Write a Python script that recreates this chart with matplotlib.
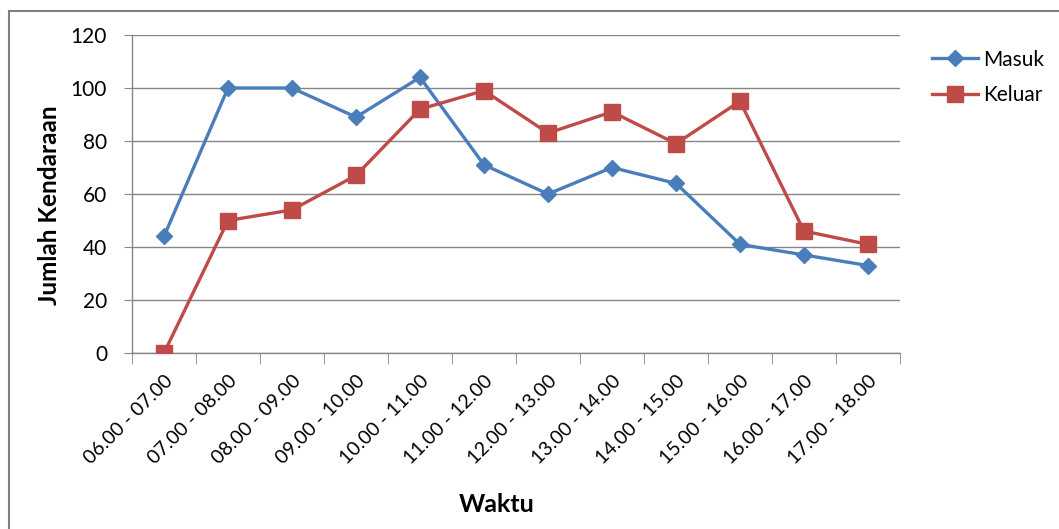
import numpy as np
import matplotlib.pyplot as plt
from matplotlib.patches import Rectangle

# Data
waktu = ["06.00 - 07.00", "07.00 - 08.00", "08.00 - 09.00", "09.00 - 10.00",
         "10.00 - 11.00", "11.00 - 12.00", "12.00 - 13.00", "13.00 - 14.00",
         "14.00 - 15.00", "15.00 - 16.00", "16.00 - 17.00", "17.00 - 18.00"]
masuk = [44, 100, 100, 89, 104, 71, 60, 70, 64, 41, 37, 33]
keluar = [0, 50, 54, 67, 92, 99, 83, 91, 79, 95, 46, 41]
y_ticks = [0, 20, 40, 60, 80, 100, 120]

BLUE = "#4A7EBB"
RED = "#BE4B48"
GRID = "#868686"

plt.rcParams["font.family"] = ["Lato", "DejaVu Sans"]

W, H = 1059, 529
fig = plt.figure(figsize=(W / 100, H / 100), dpi=100)

# chart frame (left and top edges visible)
fig.add_artist(Rectangle((9 / W, -0.1), 1.2, 1 - 11 / H + 0.1, transform=fig.transFigure,
                         fill=False, edgecolor="#7f7f7f", linewidth=1.5))

ax = fig.add_axes([132 / W, 1 - 353 / H, 768 / W, 318 / H])
x = np.arange(len(waktu))

ax.plot(x, masuk, color=BLUE, linewidth=2.4, marker="D", markersize=8.5,
        label="Masuk", zorder=3)
ax.plot(x, keluar, color=RED, linewidth=2.4, marker="s", markersize=11,
        label="Keluar", zorder=3)

ax.set_xlim(-0.5, len(waktu) - 0.5)
ax.set_ylim(0, 120)
ax.set_yticks(y_ticks)
ax.tick_params(axis="y", length=6, color=GRID, labelsize=15, pad=12)
ax.grid(axis="y", color=GRID, linewidth=1)
ax.set_axisbelow(True)

ax.set_xticks(x)
ax.set_xticklabels(waktu, rotation=45, ha="right", rotation_mode="anchor", fontsize=14)
ax.set_xticks(np.arange(-0.5, len(waktu), 1), minor=True)
ax.tick_params(axis="x", which="major", length=0, pad=14)
ax.tick_params(axis="x", which="minor", length=8, color=GRID)

for s in ["top", "right"]:
    ax.spines[s].set_visible(False)
for s in ["left", "bottom"]:
    ax.spines[s].set_color(GRID)
    ax.spines[s].set_linewidth(1)

fig.text(50 / W, 1 - 205 / H, "Jumlah Kendaraan", rotation=90, ha="center", va="center",
         fontsize=17.5, fontweight="bold")
fig.text(497 / W, 1 - 505 / H, "Waktu", ha="center", va="center",
         fontsize=18, fontweight="bold")

fig.legend(loc="upper left", bbox_to_anchor=(913 / W, 1 - 31 / H), frameon=False,
           fontsize=15, handlelength=2.2, handletextpad=0.25, labelspacing=0.75)

fig.savefig("out.png", dpi=100)
